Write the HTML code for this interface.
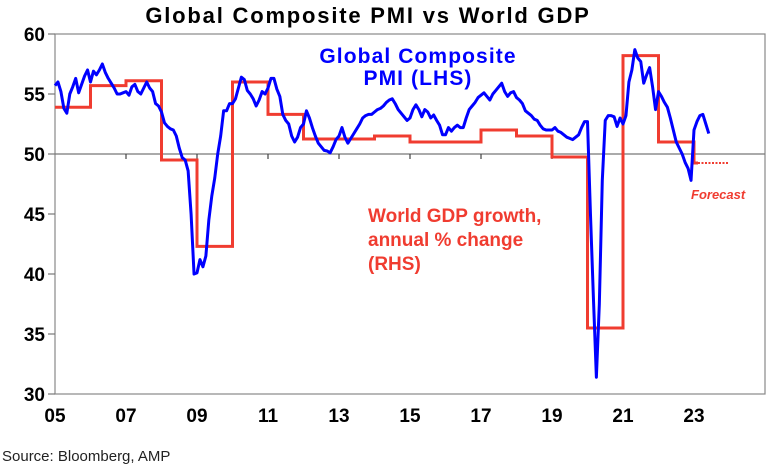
<!DOCTYPE html>
<html><head><meta charset="utf-8"><style>
body{margin:0;background:#fff;width:774px;height:472px;overflow:hidden}
svg{display:block}
text{font-family:"Liberation Sans",Arial,sans-serif}
</style></head><body>
<svg id="chart" width="774" height="472">
<text x="368" y="23" text-anchor="middle" font-size="22" letter-spacing="1.8" font-weight="bold">Global Composite PMI vs World GDP</text>
<g id="axes"></g>
<g id="series"></g>
<text x="418" y="63" text-anchor="middle" font-size="21" letter-spacing="1.1" font-weight="bold" fill="#0000ff">Global Composite</text>
<text x="418" y="85" text-anchor="middle" font-size="21" letter-spacing="1.1" font-weight="bold" fill="#0000ff">PMI (LHS)</text>
<text x="368" y="222" font-size="19" font-weight="bold" fill="#f03c30">World GDP growth,</text>
<text x="368" y="246" font-size="19" font-weight="bold" fill="#f03c30">annual % change</text>
<text x="368" y="270" font-size="19" font-weight="bold" fill="#f03c30">(RHS)</text>
<text x="691" y="199" font-size="13" font-weight="bold" font-style="italic" fill="#f03c30">Forecast</text>
<text x="2" y="461" font-size="15" fill="#222">Source: Bloomberg, AMP</text>
</svg>
<script>
const yTicks=[30,35,40,45,50,55,60];
const xTickLabels=["05","07","09","11","13","15","17","19","21","23"];
const gdpYears=[2005,2006,2007,2008,2009,2010,2011,2012,2013,2014,2015,2016,2017,2018,2019,2020,2021,2022,2023];
const gdpValues=[53.9,55.7,56.1,49.5,42.3,56.0,53.3,51.25,51.25,51.5,51.0,51.0,52.0,51.5,49.75,35.5,58.2,51.0,49.25];
const pmiStartYear=2005;
const pmiValues=[
55.7,56.0,55.2,53.8,53.4,55.0,55.6,56.3,55.1,55.8,56.5,57.0,
56.0,56.9,56.6,57.0,57.5,56.8,56.3,55.9,55.5,55.0,55.0,55.1,
55.2,54.9,55.6,55.8,55.2,55.0,55.5,56.0,55.5,55.2,54.2,54.0,
53.5,52.6,52.3,52.1,52.0,51.5,50.5,49.7,49.5,48.6,45.0,40.0,
40.1,41.2,40.6,41.5,44.5,46.5,48.0,50.0,51.5,53.6,53.6,54.2,
54.2,54.6,55.5,56.4,56.2,55.3,55.0,54.6,54.0,54.5,55.2,55.0,
55.5,56.3,56.3,55.4,54.8,53.3,52.8,52.5,51.5,51.0,51.4,52.2,
52.5,53.6,53.0,52.2,51.5,50.9,50.6,50.3,50.25,50.1,50.6,51.2,
51.5,52.2,51.4,50.9,51.3,51.7,52.1,52.5,53.0,53.2,53.3,53.3,
53.5,53.7,53.8,54.0,54.3,54.5,54.6,54.2,53.7,53.4,53.1,52.8,
53.0,53.7,54.1,53.7,53.1,53.7,53.5,53.0,53.25,52.8,52.4,51.6,
51.6,52.2,51.9,52.2,52.4,52.2,52.2,53.0,53.7,54.0,54.3,54.7,
54.9,55.1,54.8,54.5,55.0,55.3,55.6,55.9,55.2,54.8,55.1,55.2,
54.7,54.5,54.2,53.6,53.4,53.2,52.9,52.8,52.4,52.1,52.0,52.0,
52.0,52.2,51.9,51.8,51.6,51.4,51.3,51.2,51.4,51.6,52.2,52.7,
52.7,45.0,38.0,31.4,37.5,47.8,52.8,53.2,53.2,53.1,52.3,53.0,
52.5,53.2,56.0,57.0,58.7,58.0,57.7,55.9,56.6,57.2,55.6,53.7,
55.2,54.8,54.3,53.9,53.0,52.0,51.0,50.5,50.0,49.3,48.8,47.8,
52.0,52.7,53.2,53.3,52.5,51.7];
const L=55,R=765,T=34,B=394;
const x=yr=>L+(yr-2005)*(R-L)/20;
const y=v=>T+(60-v)*(B-T)/30;
const NS="http://www.w3.org/2000/svg";
function mk(tag,attrs,parent){const e=document.createElementNS(NS,tag);for(const k in attrs)e.setAttribute(k,attrs[k]);parent.appendChild(e);return e;}
const ax=document.getElementById('axes'),se=document.getElementById('series');
let e=mk('rect',{x:L,y:T,width:R-L,height:B-T,fill:'none',stroke:'#888','stroke-width':1.2},ax);


e=mk('line',{x1:L,x2:R,y1:y(50),y2:y(50),stroke:'#777','stroke-width':1.2},ax);


yTicks.forEach(v=>{
 let t=mk('line',{x1:L-7,x2:L,y1:y(v),y2:y(v),stroke:'#777','stroke-width':1.2},ax);
 
 
 let l=mk('text',{x:L-10,y:y(v)+7,'text-anchor':'end','font-size':19,'font-weight':'bold'},ax);
 l.textContent=v;
 
 
});
xTickLabels.forEach((s,i)=>{
 const xx=x(2005+2*i);
 if(i>0){let t=mk('line',{x1:xx,x2:xx,y1:y(50),y2:y(50)+5,stroke:'#444','stroke-width':1.2},ax);
 
 }
 let l=mk('text',{x:xx,y:422,'text-anchor':'middle','font-size':19,'font-weight':'bold'},ax);
 l.textContent=s;
 
 
});
let d='';
for(let i=0;i<gdpYears.length-1;i++){
 const x0=x(gdpYears[i]),x1=x(gdpYears[i]+1),yy=y(gdpValues[i]);
 d+=(i===0?'M':'L')+x0+','+yy+'L'+x1+','+yy;
}
const li=gdpYears.length-1;
d+='L'+x(gdpYears[li])+','+y(gdpValues[li])+'L'+(x(gdpYears[li])+4)+','+y(gdpValues[li]);
e=mk('path',{d:d,fill:'none',stroke:'#f03c30','stroke-width':3,'stroke-linejoin':'miter'},se);


e=mk('line',{x1:x(gdpYears[li])+4,x2:x(gdpYears[li]+1),y1:y(gdpValues[li]),y2:y(gdpValues[li]),stroke:'#f03c30','stroke-width':2,'stroke-dasharray':'2,1.5'},se);


const pts=pmiValues.map((v,i)=>x(pmiStartYear+i/12)+','+y(v));
e=mk('polyline',{points:pts.join(' '),fill:'none',stroke:'#0000ff','stroke-width':3,'stroke-linejoin':'round'},se);


</script>
</body></html>
